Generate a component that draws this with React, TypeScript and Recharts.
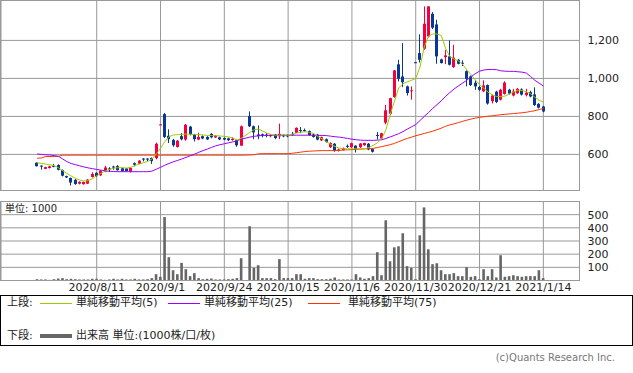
import React from "react";
import { ComposedChart, Bar, Line, XAxis, YAxis, CartesianGrid } from "recharts";

const FONT = '"DejaVu Sans", "Noto Sans CJK JP", sans-serif';
const UP = "#f5003d";
const DOWN = "#0a3696";
const GRID = "#999999";

// slot layout: 136 trading-day slots, data starts at slot 8 (2020/7/17)
const firstIndex = 8;
const slotCount = 136;
const tickIndexes = [22, 37, 52, 67, 82, 97, 112, 127];
const tickLabels = [
  "2020/8/11", "2020/9/1", "2020/9/24", "2020/10/15",
  "2020/11/6", "2020/11/30", "2020/12/21", "2021/1/14",
];
const priceTicks = [600, 800, 1000, 1200];
const volumeTicks = [100, 200, 300, 400, 500];

// OHLC from slot 8 to 127 (null = 2020/10/1 market halt)
const opens = [
  556, 541, 524, 528, 540, 544, 517, 486, 476, 466, 446, 443, 446, 481, 503, 490, 509, 526, 536, 538,
  527, 526, 508, 554, 551, 578, 578, 581, 580, 758, 812, 698, 676, 639, 696, 678, 746, 704, 678, 696,
  692, 708, 689, 690, 686, 684, 676, 674, 646, null, 802, 748, 705, 706, 704, 696, 705, 695, 702, 700,
  708, 714, 728, 728, 723, 705, 704, 674, 680, 638, 656, 618, 624, 645, 638, 646, 638, 648, 656, 628,
  702, 684, 767, 814, 902, 1074, 1010, 958, 932, 1085, 1133, 1156, 1221, 1340, 1284, 1100, 1112, 1116, 1060, 1098,
  1082, 1038, 1010, 977, 955, 932, 965, 880, 930, 888, 918, 940, 910, 922, 942, 912, 928, 916, 866, 852,
];
const highs = [
  558, 542, 535, 540, 550, 548, 520, 488, 478, 470, 458, 457, 470, 506, 505, 518, 540, 533, 540, 544,
  530, 528, 532, 558, 570, 580, 580, 584, 662, 760, 818, 732, 682, 676, 712, 760, 750, 708, 714, 700,
  696, 712, 702, 693, 690, 688, 690, 678, 752, null, 826, 752, 752, 710, 712, 705, 708, 762, 705, 706,
  718, 742, 744, 736, 726, 710, 708, 694, 684, 664, 660, 630, 636, 652, 662, 648, 660, 662, 660, 632,
  718, 714, 861, 898, 1044, 1098, 1186, 962, 958, 1087, 1232, 1379, 1379, 1349, 1309, 1104, 1150, 1200, 1177, 1102,
  1095, 1042, 1015, 990, 960, 990, 968, 915, 935, 945, 985, 945, 945, 950, 948, 945, 935, 953, 870, 856,
];
const lows = [
  536, 520, 522, 526, 532, 516, 484, 476, 436, 440, 442, 441, 444, 478, 482, 486, 506, 508, 519, 514,
  509, 510, 505, 537, 548, 563, 564, 550, 574, 756, 686, 660, 640, 636, 674, 672, 700, 668, 675, 680,
  676, 685, 686, 676, 675, 670, 672, 640, 644, null, 744, 680, 680, 690, 690, 690, 680, 680, 690, 690,
  698, 712, 712, 718, 698, 688, 674, 670, 662, 634, 614, 615, 620, 634, 634, 610, 634, 645, 622, 610,
  678, 680, 758, 806, 898, 984, 954, 910, 888, 1082, 1084, 1150, 1215, 1260, 1077, 1078, 1075, 1068, 1055, 1074,
  1065, 958, 960, 940, 935, 928, 862, 868, 870, 884, 915, 915, 905, 918, 910, 905, 900, 855, 842, 822,
];
const closes = [
  538, 537, 533, 537, 536, 519, 488, 479, 452, 444, 456, 455, 467, 497, 486, 514, 531, 523, 531, 517,
  512, 512, 529, 546, 567, 576, 575, 565, 656, 758, 692, 680, 648, 672, 680, 756, 706, 680, 692, 684,
  679, 690, 699, 679, 678, 675, 682, 648, 748, null, 748, 716, 696, 700, 698, 703, 686, 708, 695, 696,
  704, 740, 725, 725, 702, 692, 678, 691, 666, 660, 618, 626, 634, 643, 659, 626, 657, 660, 626, 614,
  700, 711, 832, 896, 1042, 998, 980, 923, 937, 1084, 1098, 1288, 1379, 1267, 1116, 1081, 1121, 1072, 1109, 1077,
  1080, 998, 965, 958, 940, 963, 868, 910, 876, 940, 978, 920, 932, 945, 915, 925, 905, 860, 846, 826,
];
// volume, 1000 shares
const volumes = [
  10, 8, 8, 5, 10, 15, 18, 10, 13, 10, 8, 8, 8, 13, 13, 8, 5, 8, 13, 8,
  13, 8, 8, 13, 8, 8, 10, 18, 48, 28, 482, 177, 78, 48, 134, 86, 33, 56, 18, 10,
  13, 15, 8, 8, 8, 10, 13, 18, 169, null, 412, 96, 116, 18, 18, 18, 10, 162, 18, 18,
  18, 48, 48, 13, 18, 18, 10, 10, 10, 13, 23, 8, 8, 8, 8, 48, 23, 13, 18, 33,
  215, 40, 457, 146, 252, 260, 359, 109, 96, 10, 343, 555, 237, 124, 131, 78, 48, 48, 56, 33,
  33, 101, 28, 33, 10, 86, 33, 86, 23, 192, 28, 33, 40, 33, 28, 33, 33, 33, 78, 18,
];
const ma5 = [
  556, 553, 549, 545, 541, 530, 514, 500, 486, 474, 465, 460, 462, 472, 488, 500, 512, 521, 527, 530,
  530, 528, 532, 541, 549, 556, 563, 576, 602, 632, 667, 693, 702, 704, 705, 707, 706, 704, 704, 702,
  700, 699, 698, 697, 695, 692, 686, 676, 685, null, 716, 730, 733, 723, 712, 705, 702, 701, 702, 702,
  706, 712, 717, 720, 716, 710, 694, 682, 667, 653, 642, 633, 630, 629, 629, 629, 629, 630, 636, 648,
  661, 683, 730, 810, 880, 950, 972, 982, 990, 1000, 1060, 1165, 1222, 1234, 1234, 1226, 1160, 1115, 1102, 1092,
  1075, 1045, 1020, 992, 968, 948, 928, 913, 905, 904, 907, 918, 928, 938, 936, 930, 920, 901, 885, 876,
];
const ma25 = [
  602, 600, 598, 597, 594, 590, 576, 562, 552, 546, 540, 534, 529, 525, 521, 517, 514, 511, 510, 509,
  509, 509, 509, 509, 509, 509, 509, 512, 522, 532, 543, 552, 561, 568, 576, 584, 593, 601, 611, 620,
  628, 637, 645, 651, 656, 661, 666, 672, 680, null, 691, 695, 698, 700, 700, 701, 701, 701, 701, 701,
  701, 701, 701, 701, 701, 700, 700, 700, 699, 696, 693, 691, 688, 684, 680, 677, 675, 674, 674, 674,
  675, 677, 684, 692, 700, 709, 720, 733, 745, 757, 778, 800, 820, 842, 862, 882, 905, 925, 944, 960,
  975, 990, 1010, 1025, 1038, 1044, 1047, 1047, 1046, 1040, 1038, 1037, 1037, 1035, 1033, 1028, 1010, 990, 975, 960,
];
const ma75 = [
  580, 581, 589, 589, 589, 590, 596, 596, 596, 596, 596, 596, 596, 596, 596, 596, 596, 596, 596, 596,
  596, 596, 596, 596, 596, 596, 596, 596, 596, 596, 596, 596, 596, 596, 596, 596, 596, 596, 596, 596,
  596, 596, 596, 596, 596, 596, 596, 596, 596, null, 597, 598, 603, 604, 604, 604, 604, 604, 604, 604,
  606, 609, 612, 615, 617, 618, 619, 620, 620, 620, 620, 621, 623, 624, 625, 627, 628, 629, 630, 632,
  636, 641, 646, 651, 658, 667, 676, 684, 691, 698, 704, 710, 716, 722, 730, 738, 748, 755, 761, 767,
  774, 780, 786, 791, 795, 798, 801, 803, 806, 809, 811, 813, 815, 817, 819, 822, 826, 830, 836, 842,
];

const rows = Array.from({ length: slotCount }, (_, i) => {
  const k = i - firstIndex;
  const inside = k >= 0 && k < opens.length;
  const traded = inside && opens[k] != null;
  return {
    i,
    o: traded ? opens[k] : null,
    h: traded ? highs[k] : null,
    l: traded ? lows[k] : null,
    c: traded ? closes[k] : null,
    range: traded ? [lows[k], highs[k]] : null,
    v: traded ? volumes[k] : null,
    ma5: inside ? ma5[k] : null,
    ma25: inside ? ma25[k] : null,
    ma75: inside ? ma75[k] : null,
  };
});

const Candle = (props: any) => {
  const { x, y, width, height, payload } = props;
  if (!payload || payload.o == null || !Number.isFinite(y) || !Number.isFinite(height)) return null;
  const { o, h, l, c } = payload;
  const color = c >= o ? UP : DOWN;
  const yTop = Math.min(y, y + height);
  const yBot = Math.max(y, y + height);
  const toY = (v: number) => yTop + ((h - v) / (h - l)) * (yBot - yTop);
  const cx = Math.floor(x + width / 2) + 0.5;
  const bodyTop = toY(Math.max(o, c));
  const bodyH = Math.max(1, toY(Math.min(o, c)) - bodyTop);
  return (
    <g>
      <line x1={cx} x2={cx} y1={yTop} y2={Math.max(yBot, yTop + 1)} stroke={color} strokeWidth={1} />
      <rect x={cx - 1.5} y={bodyTop} width={3} height={bodyH} fill={color} />
    </g>
  );
};

const VolumeBar = (props: any) => {
  const { x, y, width, height, payload } = props;
  if (!payload || payload.v == null || !Number.isFinite(y)) return null;
  const cx = x + width / 2;
  return <rect x={cx - 1.3} y={y} width={2.6} height={height} fill="#666666" />;
};

const fmt = (v: number) => v.toLocaleString("en-US");
const dateLabel = (i: number) => tickLabels[tickIndexes.indexOf(i)] ?? "";

const abs = (left: number, top: number, extra: React.CSSProperties = {}): React.CSSProperties => ({
  position: "absolute",
  left,
  top,
  ...extra,
});

const LegendText = ({ left, top, children }: { left: number; top: number; children: React.ReactNode }) => (
  <div style={abs(left, top, { fontSize: 11, lineHeight: "14px", color: "#222", whiteSpace: "nowrap" })}>
    {children}
  </div>
);

const LegendLine = ({ left, top, color, thick = 1 }: { left: number; top: number; color: string; thick?: number }) => (
  <div style={abs(left, top, { width: 32, height: thick, background: color })} />
);

export default function App() {
  return (
    <div style={abs(0, 0, { width: 633, height: 373, background: "#fff", fontFamily: FONT, overflow: "hidden" })}>
      {/* upper panel: candles + moving averages */}
      <div style={abs(0, 0)}>
        <ComposedChart width={633} height={191} data={rows} margin={{ top: 0.5, right: 3.5, left: 1, bottom: 0.5 }}>
          <CartesianGrid stroke={GRID} />
          <XAxis dataKey="i" type="category" ticks={tickIndexes} hide />
          <YAxis
            orientation="right"
            width={50}
            domain={[410, 1410]}
            ticks={priceTicks}
            interval={0}
            allowDataOverflow
            tickFormatter={fmt}
            tickLine={false}
            axisLine={false}
            tickMargin={2}
            tick={{ fontSize: 11, fill: "#222", fontFamily: FONT }}
          />
          <Bar dataKey="range" shape={<Candle />} isAnimationActive={false} />
          <Line dataKey="ma75" stroke="#ff3300" strokeWidth={1} dot={false} connectNulls isAnimationActive={false} />
          <Line dataKey="ma25" stroke="#9900ff" strokeWidth={1} dot={false} connectNulls isAnimationActive={false} />
          <Line dataKey="ma5" stroke="#99cc00" strokeWidth={1} dot={false} connectNulls isAnimationActive={false} />
        </ComposedChart>
      </div>
      <div style={abs(0, 0, { width: 580, height: 191, border: `1px solid ${GRID}`, boxSizing: "border-box", pointerEvents: "none" })} />

      {/* lower panel: volume */}
      <div style={abs(0, 201)}>
        <ComposedChart width={633} height={100} data={rows} margin={{ top: 0.5, right: 3.5, left: 1, bottom: 0.5 }}>
          <CartesianGrid stroke={GRID} />
          <XAxis
            dataKey="i"
            type="category"
            ticks={tickIndexes}
            tickFormatter={dateLabel}
            height={20}
            tickLine={false}
            axisLine={false}
            tickSize={0}
            tickMargin={3}
            interval={0}
            tick={{ fontSize: 11, fill: "#222", fontFamily: FONT }}
          />
          <YAxis
            orientation="right"
            width={50}
            domain={[0, 600]}
            ticks={volumeTicks}
            interval={0}
            allowDataOverflow
            tickLine={false}
            axisLine={false}
            tickMargin={2}
            tick={{ fontSize: 11, fill: "#222", fontFamily: FONT }}
          />
          <Bar dataKey="v" shape={<VolumeBar />} isAnimationActive={false} />
        </ComposedChart>
      </div>
      <div style={abs(0, 201, { width: 580, height: 80, border: `1px solid ${GRID}`, boxSizing: "border-box", pointerEvents: "none" })} />
      <div style={abs(5, 202, { fontSize: 10, lineHeight: "14px", color: "#222" })}>単位: 1000</div>

      {/* legend */}
      <div style={abs(0, 295, { width: 633, height: 51, border: "1px solid #000", boxSizing: "border-box" })} />
      <LegendText left={7} top={296}>上段:</LegendText>
      <LegendLine left={40} top={303} color="#99cc00" />
      <LegendText left={76} top={296}>単純移動平均(5)</LegendText>
      <LegendLine left={168} top={303} color="#9900ff" />
      <LegendText left={204} top={296}>単純移動平均(25)</LegendText>
      <LegendLine left={308} top={303} color="#ff3300" />
      <LegendText left={348} top={296}>単純移動平均(75)</LegendText>
      <LegendText left={7} top={329}>下段:</LegendText>
      <LegendLine left={40} top={334} color="#666666" thick={4} />
      <LegendText left={76} top={329}>出来高 単位:(1000株/口/枚)</LegendText>

      <div style={abs(0, 351, { width: 615, textAlign: "right", fontSize: 10, lineHeight: "14px", color: "#777" })}>
        (c)Quants Research Inc.
      </div>
    </div>
  );
}
